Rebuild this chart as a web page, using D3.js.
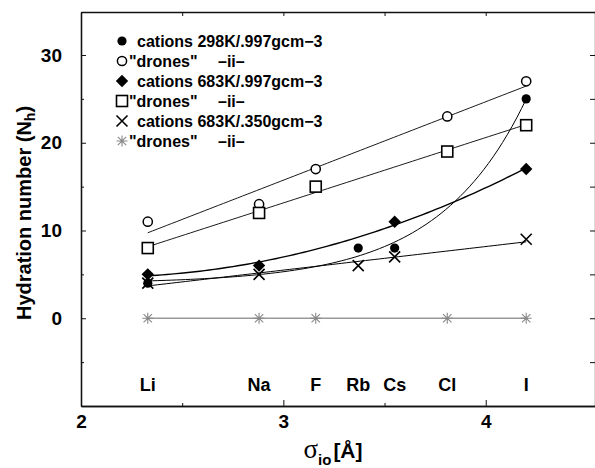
<!DOCTYPE html>
<html>
<head>
<meta charset="utf-8">
<script src="https://cdn.jsdelivr.net/npm/d3@7"></script>
<style>
  body { margin: 0; background: #fff; }
  svg { display: block; font-family: "Liberation Sans", Arial, sans-serif; }
</style>
</head>
<body>
<svg id="chart" width="595" height="468"></svg>
<script>
// ions along the x axis and their sizes
var ions = ["Li", "Na", "F", "Rb", "Cs", "Cl", "I"];
var sigma = [2.33, 2.88, 3.16, 3.37, 3.55, 3.81, 4.20];

// hydration numbers per ion (null = not plotted)
var cat298 = [4, null, null, 8, 8, null, 25];
var drn298 = [11, 13, 17, null, null, 23, 27];
var cat683 = [5, 6, null, null, 11, null, 17];
var drn683 = [8, 12, 15, null, null, 19, 22];
var cat350 = [4, 5, null, 6, 7, null, 9];
var drn350 = [0, 0, 0, null, null, 0, 0];

var legendLabels = ["cations 298K/.997gcm\u22123", "\"drones\"", "cations 683K/.997gcm\u22123",
                    "\"drones\"", "cations 683K/.350gcm\u22123", "\"drones\""];
var xTicks = [2, 3, 4], xMinor = [2.5, 3.5];
var yTicks = [0, 10, 20, 30], yMinor = [-5, 5, 15, 25];

var svg = d3.select("#chart");
var x = d3.scaleLinear().domain([2, 4.54]).range([81, 595]);
var y = d3.scaleLinear().domain([-10, 34.9]).range([406, 12]);

// ---- fits ----
function points(vals) {
	var out = [];
	for (var i = 0; i < vals.length; i++) {
		if (vals[i] !== null) out.push([sigma[i], vals[i]]);
	}
	return out;
}

function polyFit(pts, deg) {
	var mx = d3.mean(pts, function(p) { return p[0]; });
	var n = deg + 1, A = [], B = [];
	for (var r = 0; r < n; r++) {
		A.push([]);
		for (var c = 0; c < n; c++) {
			A[r].push(d3.sum(pts, function(p) { return Math.pow(p[0] - mx, r + c); }));
		}
		B.push(d3.sum(pts, function(p) { return p[1] * Math.pow(p[0] - mx, r); }));
	}
	// gauss elimination
	for (var k = 0; k < n; k++) {
		for (var r2 = k + 1; r2 < n; r2++) {
			var f = A[r2][k] / A[k][k];
			for (var c2 = k; c2 < n; c2++) A[r2][c2] -= f * A[k][c2];
			B[r2] -= f * B[k];
		}
	}
	var coef = new Array(n);
	for (var k2 = n - 1; k2 >= 0; k2--) {
		var s = B[k2];
		for (var j = k2 + 1; j < n; j++) s -= A[k2][j] * coef[j];
		coef[k2] = s / A[k2][k2];
	}
	return function(v) {
		var t = 0;
		for (var i = 0; i < n; i++) t += coef[i] * Math.pow(v - mx, i);
		return t;
	};
}

// y = a + b*exp(k*x), a and b by least squares
function expFit(pts, k) {
	var g = pts.map(function(p) { return [Math.exp(k * p[0]), p[1]]; });
	var lin = polyFit(g, 1);
	return function(v) { return lin(Math.exp(k * v)); };
}

var series = [
	{vals: cat298, sym: "dot", fit: function(p) { return expFit(p, 2.3); }, stroke: "#000", sw: 1},
	{vals: drn298, sym: "circle", fit: function(p) { return polyFit(p, 1); }, stroke: "#000", sw: 0.9},
	{vals: cat683, sym: "diamond", fit: function(p) { return polyFit(p, 2); }, stroke: "#000", sw: 1.4},
	{vals: drn683, sym: "square", fit: function(p) { return polyFit(p, 1); }, stroke: "#000", sw: 0.9},
	{vals: cat350, sym: "cross", fit: function(p) { return polyFit(p, 1); }, stroke: "#000", sw: 1},
	{vals: drn350, sym: "star", fit: function(p) { return polyFit(p, 1); }, stroke: "#999", sw: 1.6}
];

// ---- markers ----
function drawSymbol(g, sym, cx, cy) {
	if (sym === "dot") {
		g.append("circle").attr("cx", cx).attr("cy", cy).attr("r", 4.6).attr("fill", "#000");
	} else if (sym === "circle") {
		g.append("circle").attr("cx", cx).attr("cy", cy).attr("r", 4.6)
			.attr("fill", "#fff").attr("stroke", "#000").attr("stroke-width", 1.5);
	} else if (sym === "diamond") {
		var d = 6.2;
		g.append("path").attr("d", "M" + cx + "," + (cy - d) + "L" + (cx + d) + "," + cy +
			"L" + cx + "," + (cy + d) + "L" + (cx - d) + "," + cy + "Z").attr("fill", "#000");
	} else if (sym === "square") {
		g.append("rect").attr("x", cx - 5.5).attr("y", cy - 5.5).attr("width", 11).attr("height", 11)
			.attr("fill", "#fff").attr("stroke", "#000").attr("stroke-width", 1.6);
	} else if (sym === "cross") {
		var s = 5.5;
		g.append("path").attr("d", "M" + (cx - s) + "," + (cy - s) + "L" + (cx + s) + "," + (cy + s) +
			"M" + (cx - s) + "," + (cy + s) + "L" + (cx + s) + "," + (cy - s))
			.attr("stroke", "#000").attr("stroke-width", 1.6).attr("fill", "none");
	} else if (sym === "star") {
		var r = 5.5, r2 = 4.2, p = "";
		p += "M" + cx + "," + (cy - r) + "L" + cx + "," + (cy + r);
		p += "M" + (cx - r) + "," + cy + "L" + (cx + r) + "," + cy;
		p += "M" + (cx - r2) + "," + (cy - r2) + "L" + (cx + r2) + "," + (cy + r2);
		p += "M" + (cx - r2) + "," + (cy + r2) + "L" + (cx + r2) + "," + (cy - r2);
		g.append("path").attr("d", p).attr("stroke", "#888").attr("stroke-width", 1.1).attr("fill", "none");
	}
}

// ---- axes (ticks point inward) ----
function styleAxis(g) {
	g.selectAll("path.domain").attr("stroke", "#111").attr("stroke-width", 1.3);
	g.selectAll(".tick line").attr("stroke", "#111").attr("stroke-width", 1);
	g.selectAll("text").attr("fill", "#000").style("font-size", "19px").style("font-weight", "bold");
}

svg.append("g").attr("transform", "translate(0,406)")
	.call(d3.axisBottom(x).tickValues(xTicks).tickFormat(d3.format("d")).tickSizeInner(-6).tickSizeOuter(0).tickPadding(9))
	.call(styleAxis);
svg.append("g").attr("transform", "translate(0,406)")
	.call(d3.axisBottom(x).tickValues(xMinor).tickFormat("").tickSizeInner(-3).tickSizeOuter(0))
	.call(styleAxis);
svg.append("g").attr("transform", "translate(0,12)")
	.call(d3.axisTop(x).tickValues(xTicks.concat(xMinor)).tickFormat("").tickSizeInner(-4).tickSizeOuter(0))
	.call(styleAxis);
svg.append("g").attr("transform", "translate(81,0)")
	.call(d3.axisLeft(y).tickValues(yTicks).tickFormat(d3.format("d")).tickSizeInner(-5).tickSizeOuter(0).tickPadding(19))
	.call(styleAxis);
svg.append("g").attr("transform", "translate(81,0)")
	.call(d3.axisLeft(y).tickValues(yMinor).tickFormat("").tickSizeInner(-3).tickSizeOuter(0))
	.call(styleAxis);
svg.append("g").attr("transform", "translate(595,0)")
	.call(d3.axisRight(y).tickValues(yTicks.concat(yMinor)).tickFormat("").tickSizeInner(-5).tickSizeOuter(0))
	.call(styleAxis);

// ---- fit curves ----
var lineGen = d3.line().x(function(d) { return x(d[0]); }).y(function(d) { return y(d[1]); });
series.forEach(function(s) {
	var pts = points(s.vals);
	var f = s.fit(pts);
	var x0 = d3.min(pts, function(p) { return p[0]; }), x1 = d3.max(pts, function(p) { return p[0]; });
	var curve = d3.range(0, 81).map(function(i) { var v = x0 + (x1 - x0) * i / 80; return [v, f(v)]; });
	svg.append("path").datum(curve).attr("d", lineGen)
		.attr("fill", "none").attr("stroke", s.stroke).attr("stroke-width", s.sw);
});

// ---- data markers ----
var marks = svg.append("g");
series.forEach(function(s) {
	points(s.vals).forEach(function(p) { drawSymbol(marks, s.sym, x(p[0]), y(p[1])); });
});

// ion names
svg.append("g").selectAll("text").data(ions).enter().append("text")
	.attr("x", function(d, i) { return x(sigma[i]); })
	.attr("y", y(-7.5) + 7)
	.attr("text-anchor", "middle")
	.style("font-size", "18px").style("font-weight", "bold")
	.text(function(d) { return d; });

// ---- legend ----
var leg = svg.append("g");
legendLabels.forEach(function(lab, i) {
	var cy = 41 + i * 20;
	drawSymbol(leg, series[i].sym, 122, cy);
	var drone = lab.charAt(0) === "\"";
	leg.append("text").attr("x", drone ? 129 : 137).attr("y", cy + 5.5)
		.style("font-size", "16px").style("font-weight", "bold").text(lab);
	if (drone) {
		leg.append("text").attr("x", 218).attr("y", cy + 5.5)
			.style("font-size", "16px").style("font-weight", "bold").text("\u2013ii\u2013");
	}
});

// ---- axis titles ----
var yt = svg.append("text")
	.attr("transform", "translate(31,213) rotate(-90)")
	.attr("text-anchor", "middle")
	.style("font-size", "20px").style("font-weight", "bold");
yt.append("tspan").text("Hydration number (N");
yt.append("tspan").attr("dy", 4).style("font-size", "14px").text("h");
yt.append("tspan").attr("dy", -4).text(")");

var xt = svg.append("text").attr("x", 333).attr("y", 458).attr("text-anchor", "middle");
xt.append("tspan").style("font-family", "'Liberation Serif', serif").style("font-size", "27px").text("\u03c3");
xt.append("tspan").attr("dy", 7).style("font-size", "15px").style("font-weight", "bold").text("io");
xt.append("tspan").attr("dy", -7).attr("dx", 2).style("font-size", "21px").style("font-weight", "bold").text("[\u00c5]");
</script>
</body>
</html>
